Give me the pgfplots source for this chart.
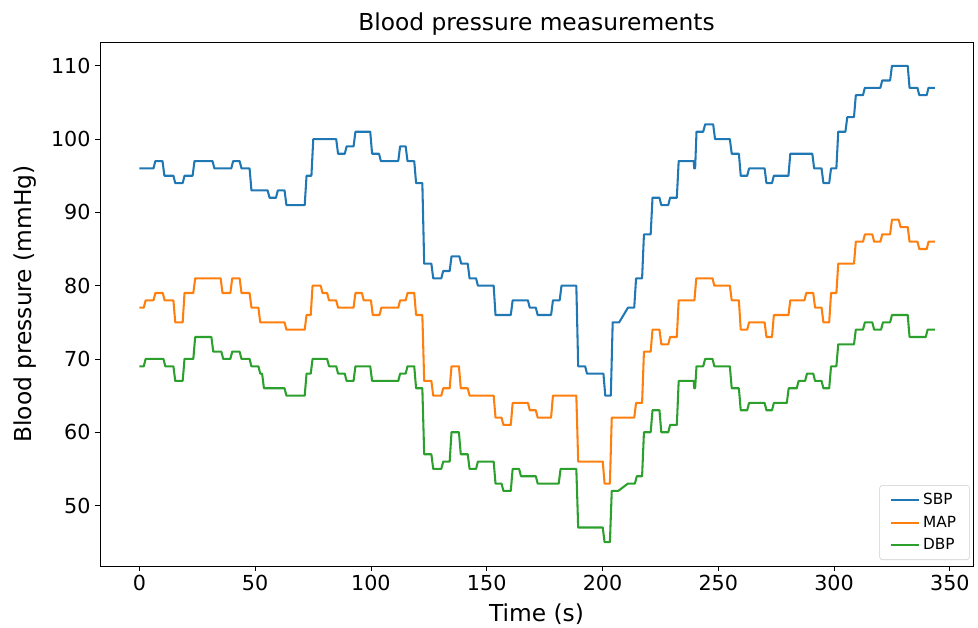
\documentclass[border=0pt]{standalone}
\usepackage{fontspec}
\setmainfont{DejaVu Sans}
\usepackage{pgfplots}
\pgfplotsset{compat=1.18}

\definecolor{sbp}{HTML}{1F77B4}
\definecolor{map}{HTML}{FF7F0E}
\definecolor{dbp}{HTML}{2CA02C}

\begin{document}
\begin{tikzpicture}
\begin{axis}[
  name=ax,
  scale only axis,
  width=654.75pt, height=393pt,
  xmin=-17, xmax=360,
  ymin=41.75, ymax=113.25,
  xtick={0,50,...,350},
  ytick={50,60,...,110},
  tick align=outside,
  major tick length=3.6pt,
  tick style={black, line width=0.6pt},
  axis line style={black, line width=0.6pt},
  xtick pos=bottom, ytick pos=left,
  /pgf/number format/assume math mode=true,
  ticklabel style={font=\fontsize{15.5}{18}\selectfont},
  title={Blood pressure measurements},
  every axis title shift=0pt,
  title style={at={(axis description cs:0.5,1.021)}, anchor=base, font=\fontsize{17.5}{21}\selectfont},
  xlabel={Time (s)},
  xlabel style={at={(axis description cs:0.5,-0.105)}, anchor=base, font=\fontsize{17.5}{21}\selectfont},
  ylabel={Blood pressure (mmHg)},
  ylabel style={at={(axis description cs:-0.0779,0.5)}, rotate=0, anchor=base, font=\fontsize{17.5}{21}\selectfont},
  legend style={at={(axis description cs:1,0)}, anchor=south east, xshift=-2.5pt, yshift=4.5pt,
    font=\fontsize{11.5}{13.5}\selectfont, draw=black!20, rounded corners=2pt,
    inner xsep=8pt, inner ysep=4pt, row sep=3pt},
  legend cell align=left,
  legend image code/.code={\draw[#1] (0pt,0pt) -- (21pt,0pt);},
  every axis plot/.append style={line width=1.55pt, line join=round},
]
% SBP
\addplot[sbp] coordinates {
(0,96) (6.1,96) (6.9,97) (10,97) (10.8,95) (14.7,95) (15.5,94) (18.7,94) (19.5,95) (23,95) (23.8,97)
(31.6,97) (32.4,96) (39.7,96) (40.5,97) (43.3,97) (44.1,96) (47.6,96) (48.4,93) (55.4,93) (56.2,92)
(59,92) (59.8,93) (62.7,93) (63.5,91) (71.4,91) (72.2,95) (74.3,95) (75.1,100) (85,100) (85.8,98)
(88.7,98) (89.5,99) (92.5,99) (93.3,101) (99.7,101) (100.5,98) (103.5,98) (104.3,97) (111.8,97)
(112.6,99) (115,99) (115.8,97) (118.7,97) (119.5,94) (122.2,94) (123,83) (126.1,83) (126.9,81)
(130.4,81) (131.2,82) (134,82) (134.8,84) (138.2,84) (139,83) (141.8,83) (142.6,81) (145.4,81)
(146.2,80) (153,80) (153.8,76) (160.4,76) (161.2,78) (167.8,78) (168.6,77) (171.2,77) (172,76)
(177.8,76) (178.6,78) (181.5,78) (182.3,80) (188.7,80) (189.5,69) (192.5,69) (193.3,68) (200.4,68)
(201.2,65) (203.6,65) (204.4,75) (207.2,75) (211,77) (213.7,77) (214.5,81) (217.1,81) (217.9,87)
(220.8,87) (221.6,92) (224.6,92) (225.4,91) (228.4,91) (229.2,92) (232.1,92) (232.9,97) (239.4,97)
(239.6,96) (240,96) (240.6,101) (243.5,101) (244.3,102) (247.8,102) (248.6,100) (255,100) (255.8,98)
(258.9,98) (259.7,95) (262.5,95) (263.3,96) (270,96) (270.8,94) (273.2,94) (274,95) (280.3,95)
(281.1,98) (290.6,98) (291.4,96) (294.6,96) (295.4,94) (297.9,94) (298.7,96) (301,96) (301.8,101)
(304.9,101) (305.7,103) (308.6,103) (309.4,106) (312.5,106) (313.3,107) (320,107) (320.8,108)
(324.2,108) (325,110) (331.8,110) (332.6,107) (336,107) (336.8,106) (340,106) (340.8,107) (343.5,107)
};
\addlegendentry{SBP}
% MAP
\addplot[map] coordinates {
(0,77) (1.9,77) (2.7,78) (6.1,78) (6.9,79) (10.1,79) (10.9,78) (14.7,78) (15.5,75) (18.7,75) (19.5,79)
(23.3,79) (24.1,81) (35.1,81) (35.9,79) (39.3,79) (40.1,81) (43.3,81) (44.1,79) (47.6,79) (48.4,77)
(51.4,77) (52.2,75) (62.7,75) (63.5,74) (71.4,74) (72.2,76) (74,76) (74.8,80) (78.3,80) (79.1,79)
(81.1,79) (81.9,78) (85,78) (85.8,77) (92.5,77) (93.3,79) (96.1,79) (96.9,78) (100,78) (100.8,76)
(103.7,76) (104.5,77) (111.8,77) (112.6,78) (115,78) (115.8,79) (118.7,79) (119.5,76) (122.2,76)
(123,67) (126.1,67) (126.9,65) (130.4,65) (131.2,66) (134,66) (134.8,69) (138,69) (138.8,66)
(141.8,66) (142.6,65) (153,65) (153.8,62) (156.4,62) (157.2,61) (160.4,61) (161.2,64) (167.8,64)
(168.6,63) (171.2,63) (172,62) (177.8,62) (178.6,65) (188.7,65) (189.5,56) (200.1,56) (200.9,53)
(203.2,53) (204,62) (213.7,62) (214.5,64) (217.1,64) (217.9,71) (220.8,71) (221.6,74) (224.6,74)
(225.4,72) (228.4,72) (229.2,73) (232.1,73) (232.9,78) (239.7,78) (240.5,81) (247.5,81) (248.3,80)
(255,80) (255.8,78) (258.9,78) (259.7,74) (262.5,74) (263.3,75) (270,75) (270.8,73) (273.2,73)
(274,76) (280.3,76) (281.1,78) (287.2,78) (288,79) (291,79) (291.8,77) (294.6,77) (295.4,75)
(297.9,75) (298.7,79) (301,79) (301.8,83) (308.6,83) (309.4,86) (312.5,86) (313.3,87) (316.5,87)
(317.3,86) (320,86) (320.8,87) (324.2,87) (325,89) (327.9,89) (328.7,88) (331.8,88) (332.6,86)
(336,86) (336.8,85) (340,85) (340.8,86) (343.5,86)
};
\addlegendentry{MAP}
% DBP
\addplot[dbp] coordinates {
(0,69) (1.9,69) (2.7,70) (10.4,70) (11.2,69) (14.7,69) (15.5,67) (18.7,67) (19.5,70) (23.3,70)
(24.1,73) (31.1,73) (31.9,71) (35.4,71) (36.2,70) (39.3,70) (40.1,71) (43.3,71) (44.1,70) (47.6,70)
(48.4,69) (51.4,69) (52.2,68) (53,68) (53.8,66) (62.7,66) (63.5,65) (71.4,65) (72.2,68) (74,68)
(74.8,70) (81.1,70) (81.9,69) (85,69) (85.8,68) (88.7,68) (89.5,67) (92.5,67) (93.3,69) (99.7,69)
(100.5,67) (111.8,67) (112.6,68) (115,68) (115.8,69) (118.7,69) (119.5,66) (122.2,66) (123,57)
(126.1,57) (126.9,55) (130.4,55) (131.2,56) (134,56) (134.8,60) (138,60) (138.8,57) (141.8,57)
(142.6,55) (145.4,55) (146.2,56) (153,56) (153.8,53) (156.4,53) (157.2,52) (160.4,52) (161.2,55)
(164,55) (164.8,54) (171.2,54) (172,53) (181.1,53) (181.9,55) (188.7,55) (189.5,47) (200.1,47)
(200.9,45) (203.2,45) (204,52) (206.8,52) (211,53) (214,53) (214.8,54) (217.1,54) (217.9,60)
(220.8,60) (221.6,63) (224.6,63) (225.4,60) (228.4,60) (229.2,61) (232.1,61) (232.9,67) (239.4,67)
(239.6,66) (240,66) (240.6,69) (243.5,69) (244.3,70) (247.5,70) (248.3,69) (255,69) (255.8,66)
(258.9,66) (259.7,63) (262.5,63) (263.3,64) (270,64) (270.8,63) (273.2,63) (274,64) (279.6,64)
(280.4,66) (283.9,66) (284.7,67) (287.5,67) (288.3,68) (291,68) (291.8,67) (294.6,67) (295.4,66)
(297.9,66) (298.7,69) (301,69) (301.8,72) (308.6,72) (309.4,74) (312.5,74) (313.3,75) (316.5,75)
(317.3,74) (320.3,74) (321.1,75) (324.2,75) (325,76) (331.8,76) (332.6,73) (339.6,73) (340.4,74) (343.5,74)
};
\addlegendentry{DBP}
\end{axis}
\pgfresetboundingbox
\path[shift={(ax.south west)}] (-75pt,-46.5pt) rectangle ++(733.5pt,471pt);
\end{tikzpicture}
\end{document}
